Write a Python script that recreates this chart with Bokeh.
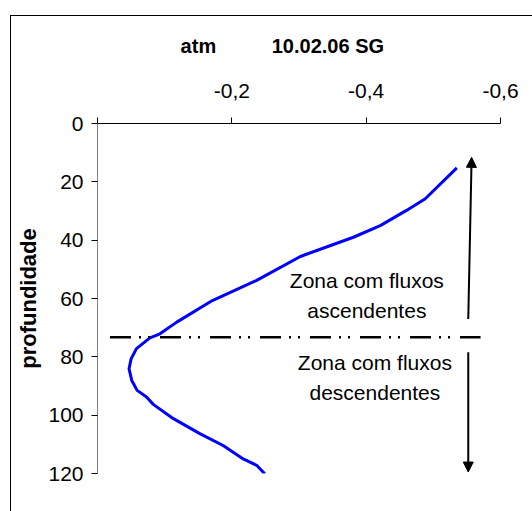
from bokeh.plotting import figure
from bokeh.models import (Range1d, FixedTicker, ColumnDataSource, Arrow,
                          NormalHead)
from bokeh.core.properties import value
from bokeh.embed import file_html
from bokeh.resources import INLINE

# ---- data ----
depth = [15.2, 25.8, 29.8, 35.0, 39.0, 45.6, 53.8, 60.7, 68.1, 72.1, 73.5,
         77.2, 80.7, 84.1, 88.1, 91.5, 93.8, 96.3, 101.2, 106.4, 110.4,
         115.0, 117.2, 120.1]
atm = [-0.535, -0.488, -0.460, -0.421, -0.381, -0.302, -0.237, -0.171,
       -0.118, -0.093, -0.078, -0.058, -0.050, -0.047, -0.051, -0.059,
       -0.073, -0.083, -0.113, -0.153, -0.187, -0.217, -0.237, -0.249]

x_ticks = [0, -0.2, -0.4, -0.6]
x_tick_labels = ["", "-0,2", "-0,4", "-0,6"]
y_ticks = [0, 20, 40, 60, 80, 100, 120]

boundary_depth = 73.3
boundary_x = [-0.0186, -0.5703]

zone_text = ["Zona com fluxos", "ascendentes", "Zona com fluxos", "descendentes"]
zone_x = [-0.401, -0.401, -0.413, -0.413]
zone_y = [53.8, 64.1, 81.8, 92.1]

up_arrow = dict(x_start=-0.552, y_start=67.0, x_end=-0.557, y_end=11.6)
down_arrow = dict(x_start=-0.552, y_start=78.4, x_end=-0.552, y_end=119.5)

NB = "\u00a0"
title_text = "atm" + NB * 10 + "10.02.06 SG" + NB * 6

FONT = "Liberation Sans"

p = figure(width=522, height=496, output_backend="svg", toolbar_location=None,
           x_range=Range1d(0, -0.6), y_range=Range1d(120, 0),
           x_axis_location="above",
           min_border_left=86, min_border_right=33,
           min_border_top=107, min_border_bottom=39)
p.margin = (15, 0, 0, 10)
p.styles = {"border-left": "1px solid black", "border-top": "1px solid black"}
p.outline_line_color = None
p.background_fill_color = "white"
p.border_fill_color = "white"
p.xgrid.visible = False
p.ygrid.visible = False

xa = p.xaxis[0]
xa.ticker = FixedTicker(ticks=x_ticks)
xa.major_label_overrides = {t: l for t, l in zip(x_ticks, x_tick_labels)}
xa.minor_tick_line_color = None
xa.major_tick_in = 0
xa.major_tick_out = 6
xa.axis_line_color = "black"
xa.major_tick_line_color = "black"
xa.major_label_text_font = FONT
xa.major_label_text_font_size = "21px"
xa.major_label_text_color = "black"
xa.major_label_standoff = 20
xa.axis_label = title_text
xa.axis_label_text_font = FONT
xa.axis_label_text_font_size = "20px"
xa.axis_label_text_font_style = "bold"
xa.axis_label_text_color = "black"
xa.axis_label_standoff = 24

ya = p.yaxis[0]
ya.ticker = FixedTicker(ticks=y_ticks)
ya.minor_tick_line_color = None
ya.major_tick_in = 0
ya.major_tick_out = 6
ya.axis_line_color = "#808080"
ya.major_tick_line_color = "black"
ya.major_label_text_font = FONT
ya.major_label_text_font_size = "21px"
ya.major_label_text_color = "black"
ya.major_label_standoff = 8
ya.axis_label = "profundidade"
ya.axis_label_text_font = FONT
ya.axis_label_text_font_size = "22px"
ya.axis_label_text_font_style = "bold"
ya.axis_label_text_color = "black"
ya.axis_label_standoff = 4

# profile curve
p.line(atm, depth, line_color="#0000FF", line_width=3)

# boundary dash-dot-dot line
p.line(boundary_x, [boundary_depth, boundary_depth], line_color="black",
       line_width=2.5, line_dash="21 8 2 7 2 10")

# zone texts
src = ColumnDataSource(dict(x=zone_x, y=zone_y, t=zone_text))
p.text(x="x", y="y", text="t", source=src, text_font=value(FONT),
       text_font_size="21px", text_align="center", text_baseline="middle",
       text_color="black")

# arrows
p.add_layout(Arrow(end=NormalHead(size=10, fill_color="black", line_color="black"),
                   line_color="black", line_width=2, **up_arrow))
p.add_layout(Arrow(end=NormalHead(size=10, fill_color="black", line_color="black"),
                   line_color="black", line_width=2, **down_arrow))

open("out.html", "w").write(file_html(p, INLINE))
